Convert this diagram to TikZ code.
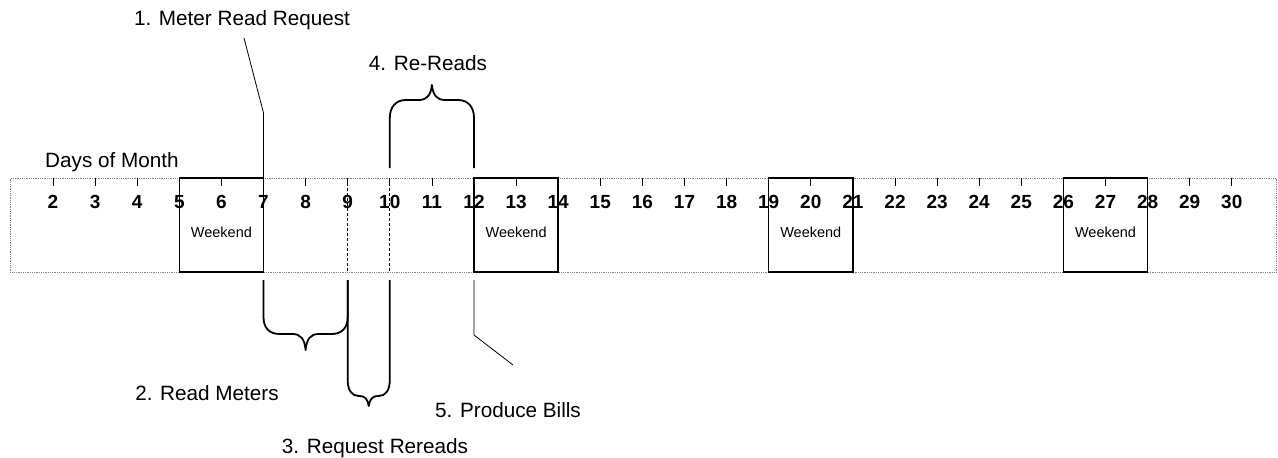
\documentclass[tikz,border=0pt]{standalone}
\usepackage{fontspec}
\setmainfont{Liberation Sans}
\begin{document}
\begin{tikzpicture}[x=1pt,y=-1pt,
  lbl/.style={font=\fontsize{20.7}{24}\selectfont, inner sep=0pt},
  num/.style={font=\bfseries\fontsize{19}{22}\selectfont, inner sep=0pt},
  wk/.style={font=\fontsize{14.5}{17}\selectfont, inner sep=0pt},
  stripbox/.style={draw=gray, densely dotted, line width=0.8pt, inner sep=0pt, minimum width=1266pt, minimum height=94pt},
  wkbox/.style={draw=black, line width=1.5pt, inner sep=0pt, minimum width=84.2pt, minimum height=94pt},
  brace/.style={draw=black, line width=1.8pt, line join=round},
  lead/.style={draw=black, line width=0.8pt},
  tickmark/.style={draw=black, line width=0.8pt},
  guide/.style={draw=black, densely dashed, line width=1pt}]
\useasboundingbox (0,0) rectangle (1278,458);
% day x positions
\def\X#1{(53+(#1-2)*42.1)}
% strip
\node[stripbox, anchor=north west] (strip) at (10,178) {};
\node[lbl, anchor=west] (dom) at (45,162) {Days of Month};
% weekend boxes
\foreach \a/\b in {5/7,12/14,19/21,26/28}{
  \node[wkbox] (wk\a) at ({(\X{\a}+\X{\b})/2},225) {};
  \node[wk] (wkt\a) at ({(\X{\a}+\X{\b})/2},232) {Weekend};
}
% numbers and ticks
\foreach \d in {2,...,30}{
  \coordinate (t\d) at ({\X{\d}},178);
  \coordinate (tb\d) at ({\X{\d}},186);
  \draw[tickmark] (t\d) -- (tb\d);
  \node[num] (n\d) at ({\X{\d}},202) {\d};
}
% dashed guides in strip
\coordinate (g9a) at ({\X{9}},178);  \coordinate (g9b) at ({\X{9}},272);
\coordinate (g10a) at ({\X{10}},178); \coordinate (g10b) at ({\X{10}},272);
\draw[guide] (g9a) -- (g9b);
\draw[guide] (g10a) -- (g10b);
% 1. Meter Read Request
\node[lbl] (l1) at (242,20) {1. Meter Read Request};
\coordinate (p1a) at ({\X{7}},177);
\coordinate (p1b) at ({\X{7}},113);
\coordinate (p1c) at (244,38);
\draw[lead] (p1a) -- (p1b) -- (p1c);
% 4. Re-Reads (upward brace, days 10-12)
\node[lbl] (l4) at (428,63) {4. Re-Reads};
\pgfmathsetmacro\La{\X{10}}\pgfmathsetmacro\Ra{\X{12}}\pgfmathsetmacro\Ca{(\La+\Ra)/2}
\coordinate (b4l) at (\La,168); \coordinate (b4r) at (\Ra,168);
\draw[brace] (b4l) -- (\La,118) .. controls (\La,107) and (\La+6,100) .. (\La+16,100) -- (\Ca-13,100)
  .. controls (\Ca-5,100) and (\Ca-1,95) .. (\Ca,85)
  .. controls (\Ca+1,95) and (\Ca+5,100) .. (\Ca+13,100) -- (\Ra-16,100)
  .. controls (\Ra-6,100) and (\Ra,107) .. (\Ra,118) -- (b4r);
% 2. Read Meters (downward brace, days 7-9)
\node[lbl] (l2) at (207,393) {2. Read Meters};
\pgfmathsetmacro\Lb{\X{7}}\pgfmathsetmacro\Rb{\X{9}}\pgfmathsetmacro\Cb{(\Lb+\Rb)/2}
\coordinate (b2l) at (\Lb,280); \coordinate (b2r) at (\Rb,280);
\draw[brace] (b2l) -- (\Lb,317) .. controls (\Lb,328) and (\Lb+6,334) .. (\Lb+16,334) -- (\Cb-13,334)
  .. controls (\Cb-5,334) and (\Cb-1,339) .. (\Cb,350)
  .. controls (\Cb+1,339) and (\Cb+5,334) .. (\Cb+13,334) -- (\Rb-16,334)
  .. controls (\Rb-6,334) and (\Rb,328) .. (\Rb,317) -- (b2r);
% 3. Request Rereads (downward brace, days 9-10)
\node[lbl] (l3) at (375,448) {3. Request Rereads};
\pgfmathsetmacro\Lc{\X{9}}\pgfmathsetmacro\Rc{\X{10}}\pgfmathsetmacro\Cc{(\Lc+\Rc)/2}
\coordinate (b3l) at (\Lc,280); \coordinate (b3r) at (\Rc,280);
\draw[brace] (b3l) -- (\Lc,380) .. controls (\Lc,390) and (\Lc+4,396) .. (\Lc+11,396) -- (\Cc-9,396)
  .. controls (\Cc-4,396) and (\Cc-1,399) .. (\Cc,406)
  .. controls (\Cc+1,399) and (\Cc+4,396) .. (\Cc+9,396) -- (\Rc-11,396)
  .. controls (\Rc-4,396) and (\Rc,390) .. (\Rc,380) -- (b3r);
% 5. Produce Bills
\node[lbl] (l5) at (508,410) {5. Produce Bills};
\coordinate (p5a) at ({\X{12}},280);
\coordinate (p5b) at ({\X{12}},335);
\coordinate (p5c) at (513,365);
\draw[lead] (p5a) -- (p5b) -- (p5c);
\end{tikzpicture}
\end{document}
